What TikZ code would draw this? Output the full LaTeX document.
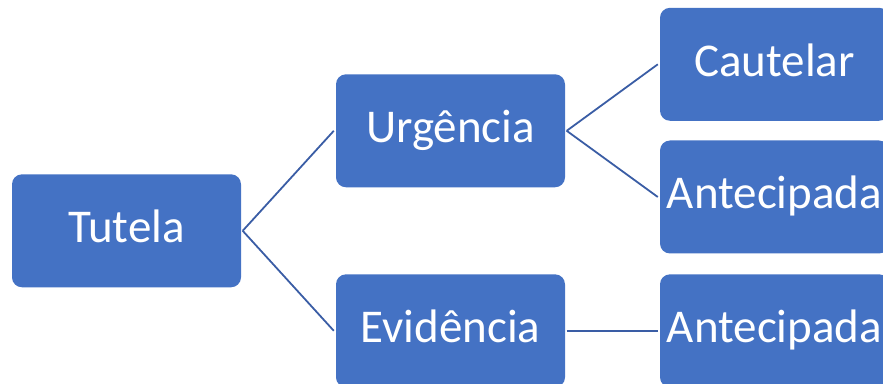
\documentclass[tikz,border=0pt]{standalone}
\usepackage{fontspec}
\setmainfont{Carlito}
\definecolor{boxblue}{HTML}{4472C4}
\definecolor{lineblue}{HTML}{3A5DA5}
\begin{document}
\begin{tikzpicture}[x=1pt,y=1pt,
  sabox/.style={fill=boxblue, draw=none, rounded corners=10pt, minimum width=229pt, minimum height=113pt,
    inner sep=0pt, text=white, font=\fontsize{47}{56}\selectfont, text height=30pt, text depth=6pt},
  conn/.style={draw=lineblue, line width=1.8pt}]
\useasboundingbox (0,0) rectangle (883,383);
\clip (0,0) rectangle (883,383);
\node[sabox] (tutela) at (126.5,152.2) {Tutela};
\node[sabox] (urg) at (450.5,252.2) {Urgência};
\node[sabox] (evi) at (450.5,52.2) {Evidência};
\node[sabox] (caut) at (774.5,318.7) {Cautelar};
\node[sabox] (ant1) at (774.5,186) {Antecipada};
\node[sabox] (ant2) at (774.5,52.2) {Antecipada};
\draw[conn] ([xshift=1.5pt]tutela.east) -- ([xshift=-2pt]urg.west);
\draw[conn] ([xshift=1.5pt]tutela.east) -- ([xshift=-2pt]evi.west);
\draw[conn] ([xshift=1.5pt]urg.east) -- ([xshift=-2pt]caut.west);
\draw[conn] ([xshift=1.5pt]urg.east) -- ([xshift=-2pt]ant1.west);
\draw[conn] ([xshift=1.5pt]evi.east) -- ([xshift=-2pt]ant2.west);
\end{tikzpicture}
\end{document}
